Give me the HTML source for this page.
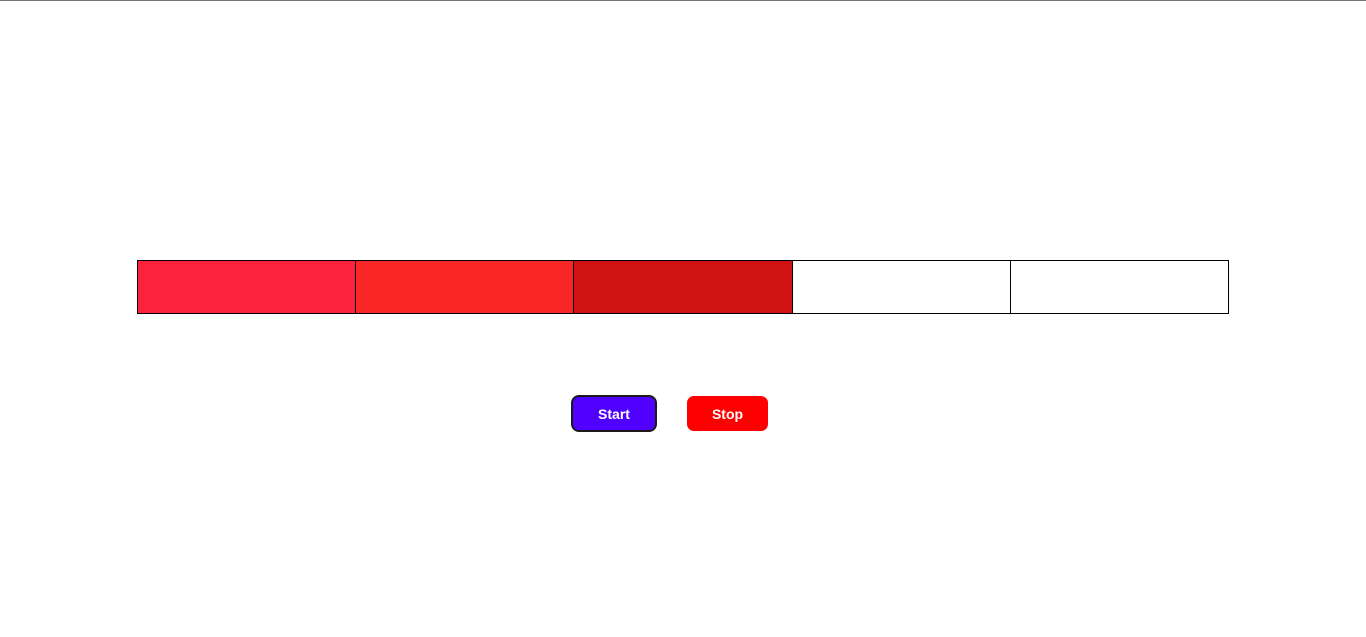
<!DOCTYPE html>
<html><head><meta charset="utf-8"><style>
html,body{margin:0;padding:0;width:1366px;height:637px;background:#fff;overflow:hidden;position:relative;font-family:"Liberation Sans",sans-serif}
#topline{position:absolute;left:0;top:0;width:1366px;height:1px;background:#777}
#bar{position:absolute;left:137px;top:260px;width:1092px;height:54px;display:flex;box-sizing:border-box;border:1px solid #000}
.cell{flex:1;height:100%;box-sizing:border-box;border-left:1px solid #000}
.cell:first-child{border-left:none}
.btn{position:absolute;color:#fff;font-weight:bold;font-size:14px;display:flex;align-items:center;justify-content:center;box-sizing:border-box}
#start{left:571px;top:395px;width:86px;height:37px;background:#5000ff;border:2px solid #1a1a1a;border-radius:8px}
#stop{left:687px;top:396px;width:81px;height:35px;background:#ff0000;border-radius:7px}
</style></head><body>
<div id="topline"></div>
<div id="bar">
<div class="cell" style="background:#fe213d"></div>
<div class="cell" style="background:#f82625"></div>
<div class="cell" style="background:#d11212"></div>
<div class="cell" style="background:#fff"></div>
<div class="cell" style="background:#fff"></div>
</div>
<div id="start" class="btn">Start</div>
<div id="stop" class="btn">Stop</div>
</body></html>
